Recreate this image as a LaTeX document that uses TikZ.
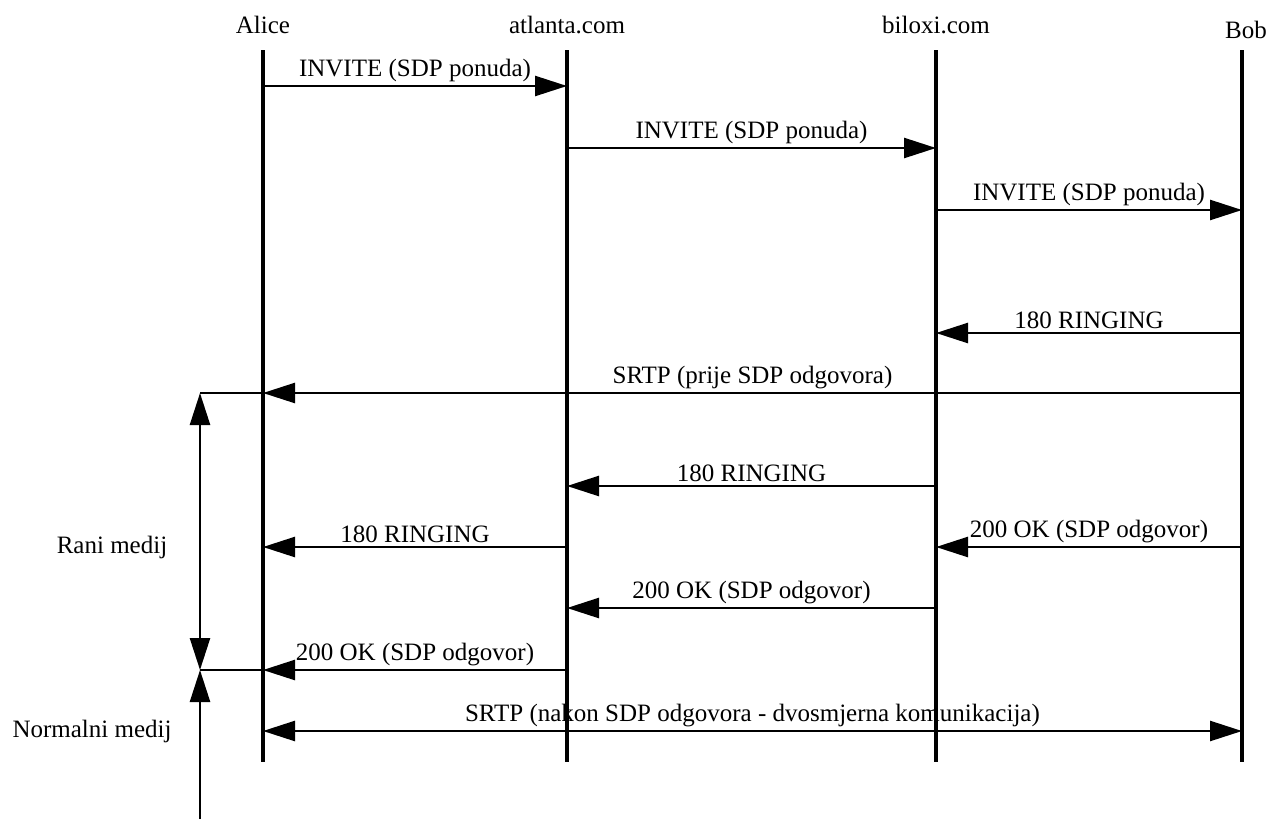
\documentclass[tikz,border=0pt]{standalone}
\usepackage{fontspec}
\setmainfont{Liberation Serif}
\usetikzlibrary{arrows.meta,positioning}

\begin{document}
\begin{tikzpicture}[x=1pt,y=-1pt]

% lifelines, messages and labels
\tikzstyle{life} =[line width=4pt]
\tikzstyle{msg}  =[line width=2.5pt, -{Triangle[length=32pt,width=20pt]}]
\tikzstyle{lbl}  =[font=\fontsize{25}{30}\selectfont, inner sep=0pt]

\useasboundingbox (0,0) rectangle (1268,819);

% participants
\node[lbl] (alice) at (263,25) {Alice};
\node[lbl] (atl)   at (567,25) {atlanta.com};
\node[lbl] (bil)   at (936,25) {biloxi.com};
\node[lbl, anchor=east] (bob) at (1267,30) {Bob};

\foreach \n/\x in {alice/263,atl/567,bil/936,bob/1242}{
  \coordinate (\n-top) at (\x,50);
  \coordinate (\n-bot) at (\x,762);
  \draw[life] (\n-top) -- (\n-bot);
}

% messages: from/to/y/text
\foreach \f/\t/\y/\txt in {alice/atl/86/INVITE (SDP ponuda),
                           atl/bil/148/INVITE (SDP ponuda),
                           bil/bob/210/INVITE (SDP ponuda),
                           bob/bil/333/180 RINGING,
                           bob/alice/393/SRTP (prije SDP odgovora),
                           bil/atl/486/180 RINGING,
                           atl/alice/547/180 RINGING,
                           bob/bil/547/200 OK (SDP odgovor),
                           bil/atl/608/200 OK (SDP odgovor),
                           atl/alice/670/200 OK (SDP odgovor)}{
  \coordinate (m\y\f) at (\f-top|-0,\y);
  \coordinate (m\y\t) at (\t-top|-0,\y);
  \draw[msg] (m\y\f) -- (m\y\t)
    node[lbl, midway, above=3pt] {\txt};
}

\coordinate (s1) at (alice-top|-0,731);
\coordinate (s2) at (bob-top|-0,731);
\draw[line width=2.5pt, {Triangle[length=32pt,width=20pt]}-{Triangle[length=32pt,width=20pt]}]
  (s1) -- (s2)
  node[lbl, midway, above=3pt] {SRTP (nakon SDP odgovora - dvosmjerna komunikacija)};

% media phases on the left
\coordinate (rtop) at (200,393);
\coordinate (rbot) at (200,670);
\coordinate (nbot) at (200,819);
\draw[line width=2.5pt] (m393alice) -- (rtop);
\draw[line width=2.5pt] (m670alice) -- (rbot);
\draw[line width=2.5pt, {Triangle[length=32pt,width=20pt]}-{Triangle[length=32pt,width=20pt]}] (rtop) -- (rbot);
\draw[line width=2.5pt, -{Triangle[length=32pt,width=20pt]}] (nbot) -- (rbot);

\node[lbl] (rani) at (112,547) {Rani medij};
\node[lbl] (norm) at (92,731) {Normalni medij};

\end{tikzpicture}
\end{document}
